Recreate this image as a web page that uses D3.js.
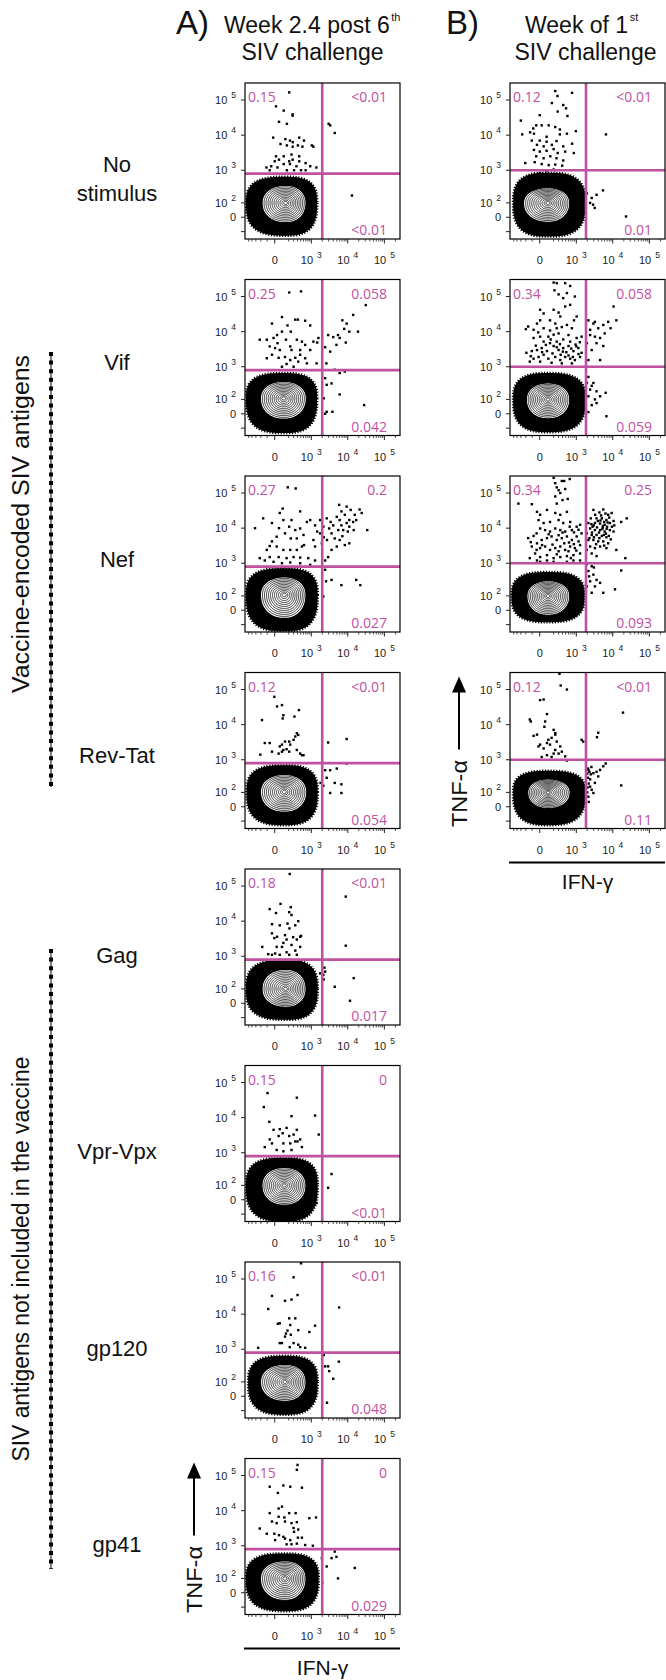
<!DOCTYPE html>
<html>
<head>
<script src="https://d3js.org/d3.v7.min.js"></script>
<style>
  body { margin: 0; padding: 0; background: #fff; }
  svg text { font-family: 'Liberation Sans', Arial, sans-serif; fill: #111; }
  .pct { font-family: 'Open Sans', sans-serif; font-size: 14px; }
  .tick { font-size: 11px; fill: #222; }
</style>
</head>
<body>
<div id="fig"></div>
<script>

// row labels and quadrant frequencies (%)
var rowLabels = [["No", "stimulus"], ["Vif"], ["Nef"], ["Rev-Tat"], ["Gag"], ["Vpr-Vpx"], ["gp120"], ["gp41"]];
var pctA = [["0.15", "<0.01", "<0.01"], ["0.25", "0.058", "0.042"], ["0.27", "0.2", "0.027"], ["0.12", "<0.01", "0.054"],
            ["0.18", "<0.01", "0.017"], ["0.15", "0", "<0.01"], ["0.16", "<0.01", "0.048"], ["0.15", "0", "0.029"]];
var pctB = [["0.12", "<0.01", "0.01"], ["0.34", "0.058", "0.059"], ["0.34", "0.25", "0.093"], ["0.12", "<0.01", "0.11"]];

// gates [IFN-g, TNF-a]
var gateA = [2000, 800];
var gateB = [1850, 1000];

// main population: outer dense region, contoured core, core centre  [xLo, xHi, yLo, yHi]
var haloA = [[-600, 1450, -140, 650], [-600, 1450, -150, 660], [-600, 1500, -170, 720], [-580, 1500, -140, 700],
             [-600, 1500, -120, 790], [-600, 1500, -180, 720], [-520, 1500, -140, 650], [-600, 1600, -140, 600]];
var innerA = [[-200, 760, -40, 390], [-230, 780, -40, 400], [-230, 760, -60, 430], [-230, 800, -40, 400],
              [-200, 760, -30, 450], [-200, 760, -40, 400], [-230, 760, -37, 390], [-230, 760, -55, 390]];
var centerA = [[150, 100], [120, 110], [130, 110], [130, 105], [150, 100], [130, 100], [140, 100], [140, 100]];
var haloB = [[-520, 1800, -150, 850], [-520, 1800, -140, 660], [-580, 1700, -80, 560], [-520, 1800, -140, 480]];
var innerB = [[-270, 700, -37, 330], [-210, 700, -37, 360], [-200, 700, -37, 330], [-185, 720, -15, 290]];
var centerB = [[110, 100], [110, 100], [110, 100], [110, 100]];
var ringLevels = [0.95, 0.87, 0.79, 0.71, 0.63, 0.55, 0.47, 0.39, 0.31, 0.23, 0.15, 0.08];

// outlier events [IFN-g, TNF-a]
var dotsA1 = [[210,165e3],[16,66e3],[120,50e3],[280,39e3],[280,36e3],[55,24e3],[170,21e3],[-20,8500],[145,7700],[225,7000],[280,6300],[450,8500],[620,7000],[1030,5100],[1140,4700],[75,5600],[170,5100],[280,4700],[410,5100],[560,4700],[0,1800],[55,2000],[120,2500],[210,1800],[280,2000],[450,1800],[690,1600],[930,1300],[1380,1200],[-45,1300],[-110,1200],[35,1200],[120,1500],[225,1500],[370,1300],[510,1000],[690,1000],[170,1000],[310,1000],[-65,1000],[16,2500],[255,2800],[450,2500],[3000,21e3],[3300,19e3],[4400,11500],[13000,180]];
var dotsA2 = [[210,130e3],[510,140e3],[-35,17e3],[95,26e3],[180,15e3],[340,22e3],[410,22e3],[670,20500],[930,15e3],[240,10e3],[95,10e3],[30,8000],[-105,5900],[-220,5900],[-15,6600],[155,5900],[380,5900],[540,5200],[670,4200],[1140,5200],[1570,6600],[1450,4900],[2400,3600],[2900,8000],[4000,7000],[5400,8000],[7100,21e3],[9300,17e3],[14e3,30e3],[31e3,57e3],[19e3,10e3],[11e3,10e3],[8000,12e3],[6000,6600],[4900,4200],[8800,4900],[3300,2700],[2600,1250],[4400,820],[6000,660],[8300,730],[-105,1750],[-35,2200],[50,1800],[140,1900],[230,1550],[340,1800],[480,2200],[670,1750],[930,3000],[65,3000],[-65,3800],[5,3400],[165,1200],[420,1400],[750,1250],[300,1000],[95,1000],[1400,1250],[480,3000],[255,3000],[230,3800],[35,4700],[2400,470],[2650,300],[3600,330],[2200,110],[2650,12],[3800,12],[2400,0],[6000,150],[28e3,55]];
var dotsA3 = [[185,145e3],[350,135e3],[-160,19e3],[-320,10e3],[-35,14e3],[65,27e3],[105,36e3],[115,17e3],[210,11e3],[140,7100],[240,5100],[340,8800],[480,30e3],[380,5100],[600,6400],[750,15e3],[930,17e3],[1270,12e3],[1450,8000],[1140,4600],[1270,3000],[540,3000],[380,2400],[230,2400],[115,2400],[25,3000],[-35,4200],[-105,2400],[-65,1500],[50,1500],[165,1400],[300,1500],[480,1450],[-220,1400],[-135,1200],[820,1400],[-15,1100],[95,1000],[230,1050],[480,1000],[930,900],[1270,1200],[25,5700],[-65,3100],[255,17e3],[480,9800],[620,3300],[55,10e3],[1750,17e3],[2150,11e3],[2650,19e3],[3400,15e3],[4000,12e3],[5000,21e3],[6000,17e3],[6700,30e3],[8300,24e3],[9300,14e3],[11e3,11e3],[12e3,33e3],[15500,24e3],[17e3,17e3],[21e3,34e3],[24e3,27e3],[34e3,8800],[10e3,8000],[7500,8800],[5500,8800],[3600,7100],[4400,5100],[6000,4600],[5000,3000],[3600,2400],[2900,1500],[2400,1200],[1950,3700],[1750,7100],[2700,4600],[5800,46e3],[9300,41e3],[14e3,15e3],[6700,12e3],[3100,9800],[2200,5500],[11e3,3700],[8300,3300],[7100,5900],[11e3,17e3],[14500,8800],[2400,650],[2550,300],[2150,95],[3600,330],[6700,230],[17e3,330],[22e3,230]];
var dotsA4 = [[-5,62e3],[30,33e3],[95,36e3],[-180,13500],[115,18500],[105,15e3],[440,26e3],[320,17e3],[380,5700],[420,5100],[340,4600],[300,3700],[210,3300],[140,3300],[230,2700],[95,2700],[65,2400],[165,2000],[380,1900],[480,1500],[540,1350],[600,1350],[115,1900],[-135,3000],[-65,3000],[-210,1400],[95,1700],[210,1700],[50,1500],[-35,1700],[2900,3100],[9300,3900],[9300,780],[2400,500],[3300,500],[5000,560],[2650,300],[4400,210],[6700,190],[3300,95],[6700,95],[2150,170],[1800,210]];
var dotsA5 = [[220,220e3],[75,31e3],[-65,22e3],[240,25e3],[16,17e3],[210,18e3],[-35,8200],[65,7600],[180,8500],[255,15e3],[215,6200],[140,4000],[340,7600],[420,10e3],[480,3600],[290,3500],[30,3600],[-35,4500],[-5,3300],[165,3000],[380,3000],[510,3800],[115,2400],[255,2100],[95,1850],[25,1850],[-175,1850],[-85,1150],[5,1200],[165,1300],[340,1450],[480,1850],[210,1100],[65,1100],[-35,1100],[380,1100],[8800,50e3],[8800,2000],[2300,470],[2400,360],[2150,290],[1750,320],[4400,120],[14500,230],[11500,15],[2200,210]];
var dotsA6 = [[-95,50e3],[-150,20e3],[380,37e3],[255,11e3],[1270,11500],[-70,7600],[-15,4500],[65,4700],[105,3600],[50,3000],[165,5100],[210,3000],[300,3300],[380,4500],[400,2100],[340,2100],[-65,2400],[-135,1450],[-35,1850],[115,1850],[230,1850],[480,2400],[540,1450],[1600,3300],[25,1200],[115,1100],[255,1200],[3600,240],[2900,80],[1400,-20]];
var dotsA7 = [[510,280e3],[300,112e3],[-35,33e3],[255,26e3],[400,35e3],[140,24e3],[-85,14e3],[210,7600],[340,7600],[40,5300],[65,5500],[230,4900],[180,3400],[155,2800],[240,2600],[140,2300],[420,3500],[1270,4700],[880,3100],[65,1500],[95,1500],[300,1500],[420,1350],[220,1150],[480,1150],[-250,1100],[670,1100],[5800,15500],[2200,680],[2400,320],[2900,320],[3100,230],[5700,440],[4000,130],[2700,-40]];
var dotsA8 = [[400,200e3],[380,145e3],[-65,48e3],[40,32e3],[115,52e3],[230,48e3],[540,45e3],[50,11500],[95,13e3],[-65,8500],[210,8500],[350,8500],[50,6700],[130,6400],[-35,4900],[25,4400],[140,4900],[255,4400],[380,4700],[880,6100],[1350,6400],[-220,3100],[-105,2200],[-5,2200],[55,2000],[115,1800],[300,3200],[420,2900],[140,1600],[230,1450],[310,2500],[410,1700],[540,1700],[5,1450],[165,1100],[255,1100],[380,1150],[670,1050],[1100,1000],[1950,440],[3600,440],[4400,680],[4900,480],[2650,250],[5400,100],[15500,225],[2000,62]];
var dotsB1 = [[230,180e3],[275,130e3],[760,160e3],[170,82e3],[420,72e3],[510,58e3],[280,47e3],[0,37e3],[-300,26e3],[560,35e3],[-45,19e3],[25,19e3],[120,19e3],[230,17e3],[330,14500],[-85,15500],[-130,12e3],[-270,10500],[-75,11e3],[90,9000],[330,10500],[540,11e3],[970,13e3],[6500,10500],[-105,7000],[0,7000],[90,6500],[255,6800],[-35,5300],[50,4800],[170,5300],[420,4800],[760,5700],[-75,3800],[0,3400],[90,3600],[200,4000],[280,3100],[480,3400],[850,3100],[-45,2500],[50,2200],[145,2500],[255,2200],[420,1900],[-210,1600],[-65,1700],[25,1500],[120,1400],[230,1450],[390,1350],[200,1050],[90,950],[0,820],[1950,210],[2650,150],[3600,190],[5400,260],[2400,100],[3200,60],[2900,85],[23e3,5]];
var dotsB2 = [[200,250e3],[260,240e3],[480,240e3],[670,200e3],[215,150e3],[300,115e3],[540,125e3],[910,100e3],[420,90e3],[670,58e3],[5,42e3],[50,33e3],[200,42e3],[300,35e3],[340,27e3],[480,52e3],[140,21e3],[230,17e3],[5,21e3],[-35,17e3],[-160,14e3],[-200,11800],[-80,11300],[50,12500],[140,10800],[260,12500],[380,13500],[540,15500],[750,12500],[860,21e3],[1020,27e3],[600,8000],[300,8900],[115,7200],[5,7200],[-80,6600],[50,5200],[140,4700],[260,5200],[420,6000],[670,5200],[1020,6600],[1400,7200],[-190,2500],[-105,2800],[-35,3000],[25,3400],[95,2800],[200,3900],[300,3000],[420,3400],[600,3900],[830,2800],[1140,3400],[1400,2500],[-80,1700],[-15,1900],[50,2200],[115,1700],[230,1900],[340,1550],[480,1900],[670,1700],[910,1550],[1270,1900],[-135,1400],[5,1400],[165,1300],[380,1250],[750,1250],[-50,4000],[80,4200],[180,2400],[350,2200],[520,2600],[720,3300],[950,4300],[1150,2300],[-120,2000],[30,2600],[260,3600],[410,2700],[600,2100],[800,1900],[1000,3800],[1250,5000],[150,6000],[330,4400],[-20,9500],[200,8200],[2150,21e3],[2950,17e3],[4000,12500],[5500,15500],[7500,19e3],[10500,52e3],[12500,21e3],[8700,12500],[6000,8900],[4500,6600],[3250,7200],[2400,8000],[3600,4700],[5500,3900],[2650,3000],[2150,1550],[4500,1550],[3250,19e3],[1950,4700],[2400,11300],[2150,510],[2950,340],[2400,215],[3600,190],[2150,130],[3250,100],[4500,130],[2650,55],[3600,70],[6700,-15],[2150,10],[1950,340],[2650,280],[6400,170]];
var dotsB3 = [[200,270e3],[230,190e3],[260,145e3],[380,220e3],[450,220e3],[650,250e3],[300,120e3],[480,130e3],[340,100e3],[230,80e3],[570,68e3],[400,63e3],[-360,50e3],[260,50e3],[-105,48e3],[-35,29e3],[5,24e3],[95,33e3],[230,27e3],[340,24e3],[540,29e3],[-15,17e3],[50,14e3],[140,15e3],[300,17e3],[420,14e3],[670,15e3],[-160,5200],[-40,7100],[5,9800],[70,8800],[140,8000],[230,9800],[340,8800],[480,8000],[750,8800],[1020,11e3],[1270,12500],[-105,3000],[-35,3700],[25,4600],[95,5200],[165,5800],[260,4600],[380,5200],[540,5800],[750,4600],[1020,5800],[1400,7100],[-40,2400],[5,2700],[70,3000],[140,2400],[230,2700],[340,3000],[480,2400],[670,3000],[910,2700],[1270,3300],[5,1500],[95,1700],[200,1400],[340,1500],[540,1600],[830,1700],[1270,1900],[-135,1400],[300,2200],[600,2200],[95,1200],[-35,1200],[200,1100],[5,1100],[540,1100],[830,1200],[1270,1200],[-80,6000],[120,6700],[300,6300],[450,3700],[620,3900],[850,3500],[1150,4200],[180,3400],[-120,4000],[30,3300],[400,7500],[650,11e3],[860,7600],[1150,9000],[-60,1900],[260,1800],[700,1400],[1000,2300],[2950,33e3],[4300,28e3],[5500,34e3],[7500,24e3],[9300,27e3],[2500,19e3],[3600,19e3],[5000,19e3],[6700,17e3],[3250,14e3],[4500,13500],[6000,12500],[8300,14e3],[2400,9800],[3250,8800],[4500,8800],[6000,8000],[8300,8800],[2650,6400],[3600,6400],[5000,6000],[6700,5500],[2150,4600],[2950,4600],[4000,4200],[5500,4200],[7500,3700],[2400,3000],[3250,2700],[4500,3000],[6700,2700],[17e3,15e3],[24e3,19e3],[10500,8000],[12500,2400],[2150,14e3],[2800,11e3],[3700,10500],[5300,10500],[3050,5500],[4300,5200],[5700,6400],[1950,7100],[1950,2400],[2650,1900],[3600,1600],[3900,16e3],[5800,15e3],[7000,11e3],[8000,20e3],[4200,7500],[5200,9500],[6500,7000],[3000,12e3],[2700,7500],[7800,6000],[9500,11e3],[10500,16e3],[4800,23e3],[6300,26e3],[3500,3500],[5800,3200],[2300,5200],[8800,4800],[11e3,12e3],[3300,24e3],[4600,16500],[5400,11500],[6800,9600],[2600,13e3],[7200,14500],[1950,950],[2650,820],[2150,600],[2950,470],[3600,330],[2400,300],[1950,210],[3250,210],[4500,270],[5500,130],[2650,130],[11500,170],[17e3,620],[22e3,1400],[2250,420],[3050,760]];
var dotsB4 = [[320,280e3],[350,130e3],[540,100e3],[5,50e3],[50,52e3],[95,20e3],[-135,14e3],[-120,12300],[-35,5200],[-80,4800],[70,12300],[60,8700],[200,7100],[230,5700],[165,4200],[115,3700],[95,3000],[5,2700],[50,2100],[140,2700],[230,5200],[260,3300],[340,2400],[-15,2400],[230,1900],[200,1500],[165,1200],[300,1500],[380,1700],[480,1250],[540,950],[1400,3700],[1550,3300],[4000,5900],[3700,4400],[19e3,22e3],[25,1200],[95,1350],[2150,510],[2950,410],[3600,450],[4500,510],[5500,650],[6400,780],[2400,270],[3250,210],[2650,125],[2150,65],[17e3,175],[2950,95],[4000,330],[2000,400],[2100,300],[2200,200],[2050,150],[2300,450],[2500,380],[2000,100],[2200,30],[2400,160],[2100,560],[2600,620]];

// axis ticks
var xTickVals = [0, 1e3, 1e4, 1e5];
var xTickExp = ["", "3", "4", "5"];
var yTickVals = [0, 1e2, 1e3, 1e4, 1e5];
var yTickExp = ["", "2", "3", "4", "5"];
var minorMult = [2, 3, 4, 5, 6, 7, 8, 9];
var minorDecades = [1e2, 1e3, 1e4];
var xNegMinor = [-500, -400, -300, -200, -100];

// layout
var W = 666, H = 1680;
var boxW = 155, boxH = 156;
var colX = [245, 510];
var rowTop0 = 83, rowStep = 196.5;
var xDomain = [-640, 267000], yDomain = [-180, 305000];
var xCof = 202, yCof = 92;
var magenta = "#c0519f";

var svg = d3.select("#fig").append("svg").attr("width", W).attr("height", H);
svg.append("rect").attr("width", W).attr("height", H).attr("fill", "#fff");

// arcsinh display transform, as used by cytometry software
function arcsinhScale(domain, range, cof) {
    var lin = d3.scaleLinear()
        .domain(domain.map(function(d){ return Math.asinh(d / cof); }))
        .range(range);
    return function(v){ return lin(Math.asinh(v / cof)); };
}

// rounded contour around c, extents in px [left, right, top, bottom]
function blobPath(ext, c, s, n) {
    var pts = [];
    for (var k = 0; k < 180; k++) {
        var t = k / 180 * 2 * Math.PI, ct = Math.cos(t), st = Math.sin(t);
        var rx = ct < 0 ? c[0] - ext[0] : ext[1] - c[0];
        var ry = st < 0 ? c[1] - ext[2] : ext[3] - c[1];
        pts.push([c[0] + s * rx * Math.sign(ct) * Math.pow(Math.abs(ct), 2 / n),
                  c[1] + s * ry * Math.sign(st) * Math.pow(Math.abs(st), 2 / n)]);
    }
    return d3.line().curve(d3.curveLinearClosed)(pts);
}

function drawPanel(p, idx) {
    var x0 = colX[p.col], y0 = rowTop0 + rowStep * p.row;
    var x = arcsinhScale(xDomain, [x0, x0 + boxW], xCof);
    var y = arcsinhScale(yDomain, [y0 + boxH, y0], yCof);
    var g = svg.append("g");

    var clipId = "clip" + idx;
    g.append("clipPath").attr("id", clipId).append("rect")
        .attr("x", x0).attr("y", y0).attr("width", boxW).attr("height", boxH);
    var plot = g.append("g").attr("clip-path", "url(#" + clipId + ")");

    var c = [x(p.center[0]), y(p.center[1])];
    var haloPx = [x(p.halo[0]), x(p.halo[1]), y(p.halo[3]), y(p.halo[2])];
    var innerPx = [x(p.inner[0]), x(p.inner[1]), y(p.inner[3]), y(p.inner[2])];

    plot.append("path").attr("d", blobPath(haloPx, c, 1, 2.8))
        .attr("fill", "#000").attr("stroke", "#000")
        .attr("stroke-width", 2.6).attr("stroke-dasharray", "1.2 1.6");

    ringLevels.forEach(function(s, k){
        plot.append("path").attr("d", blobPath(innerPx, c, s, 2.15))
            .attr("fill", k === 0 ? "#fff" : "none")
            .attr("stroke", "#000").attr("stroke-width", k === 0 ? 1.1 : 0.8);
    });

    plot.selectAll(".dot").data(p.dots).enter().append("rect")
        .attr("x", function(d){ return x(d[0]) - 1.2; })
        .attr("y", function(d){ return y(d[1]) - 1.2; })
        .attr("width", 2.4).attr("height", 2.4)
        .attr("fill", "#000");

    // quadrant gates
    plot.append("line")
        .attr("x1", x(p.gate[0])).attr("x2", x(p.gate[0]))
        .attr("y1", y0).attr("y2", y0 + boxH)
        .attr("stroke", magenta).attr("stroke-width", 2.6);
    plot.append("line")
        .attr("x1", x0).attr("x2", x0 + boxW)
        .attr("y1", y(p.gate[1])).attr("y2", y(p.gate[1]))
        .attr("stroke", magenta).attr("stroke-width", 2.6);

    g.append("rect").attr("x", x0).attr("y", y0).attr("width", boxW).attr("height", boxH)
        .attr("fill", "none").attr("stroke", "#000").attr("stroke-width", 1.2);

    g.append("text").attr("class", "pct").attr("x", x0 + 3).attr("y", y0 + 19)
        .style("fill", magenta).text(p.pct[0]);
    g.append("text").attr("class", "pct").attr("x", x0 + boxW - 13).attr("y", y0 + 19)
        .attr("text-anchor", "end").style("fill", magenta).text(p.pct[1]);
    g.append("text").attr("class", "pct").attr("x", x0 + boxW - 13).attr("y", y0 + boxH - 4)
        .attr("text-anchor", "end").style("fill", magenta).text(p.pct[2]);

    // bottom axis
    var xMinor = xNegMinor.slice();
    minorDecades.forEach(function(dec){
        minorMult.forEach(function(m){ xMinor.push(m * dec); });
    });
    xMinor.push(2e5);
    xMinor.forEach(function(v){
        g.append("line").attr("x1", x(v)).attr("x2", x(v))
            .attr("y1", y0 + boxH).attr("y2", y0 + boxH + 2.5)
            .attr("stroke", "#222").attr("stroke-width", 0.8);
    });
    xTickVals.forEach(function(v, i){
        g.append("line").attr("x1", x(v)).attr("x2", x(v))
            .attr("y1", y0 + boxH).attr("y2", y0 + boxH + 4.5)
            .attr("stroke", "#222").attr("stroke-width", 1);
        var t = g.append("text").attr("class", "tick").attr("text-anchor", "middle")
            .attr("x", x(v)).attr("y", y0 + boxH + 25);
        if (xTickExp[i] === "") { t.text("0"); }
        else {
            t.append("tspan").text("10");
            t.append("tspan").attr("dx", 4).attr("dy", -6).style("font-size", "8.5px").text(xTickExp[i]);
        }
    });

    // left axis
    yTickVals.concat([-100]).forEach(function(v){
        g.append("line").attr("x1", x0 - 4).attr("x2", x0)
            .attr("y1", y(v)).attr("y2", y(v))
            .attr("stroke", "#222").attr("stroke-width", 1);
    });
    yTickVals.forEach(function(v, i){
        var t = g.append("text").attr("class", "tick").attr("text-anchor", "end")
            .attr("x", x0 - 9).attr("y", y(v) + 4);
        if (yTickExp[i] === "") { t.text("0"); }
        else {
            t.append("tspan").text("10");
            t.append("tspan").attr("dx", 4).attr("dy", -6).style("font-size", "8.5px").text(yTickExp[i]);
        }
    });
}

var dotsA = [dotsA1, dotsA2, dotsA3, dotsA4, dotsA5, dotsA6, dotsA7, dotsA8];
var dotsB = [dotsB1, dotsB2, dotsB3, dotsB4];
var panels = [];
dotsA.forEach(function(d, i){
    panels.push({col: 0, row: i, dots: d, pct: pctA[i], halo: haloA[i], inner: innerA[i], center: centerA[i], gate: gateA});
});
dotsB.forEach(function(d, i){
    panels.push({col: 1, row: i, dots: d, pct: pctB[i], halo: haloB[i], inner: innerB[i], center: centerB[i], gate: gateB});
});
panels.forEach(drawPanel);

// column headings, with superscript ordinal placed after the measured line
function heading(txt, sup, x, y, anchor) {
    var t = svg.append("text").attr("x", x).attr("y", y).style("font-size", "23px")
        .attr("text-anchor", anchor || "start").text(txt);
    if (sup) {
        var w = t.node().getComputedTextLength();
        svg.append("text").attr("x", x + w + 1.5).attr("y", y - 12)
            .style("font-size", "11px").text(sup);
    }
}
svg.append("text").attr("x", 176).attr("y", 34).style("font-size", "33px").text("A)");
heading("Week 2.4 post 6", "th", 224, 33);
heading("SIV challenge", null, 312.5, 60, "middle");
svg.append("text").attr("x", 446).attr("y", 34).style("font-size", "33px").text("B)");
heading("Week of 1", "st", 525, 33);
heading("SIV challenge", null, 585.5, 60, "middle");

// row labels
var labelDy = [3, 5, 5, 5, 8, 8, 8, 8];
rowLabels.forEach(function(lines, i){
    var cy = rowTop0 + rowStep * i + boxH / 2 + labelDy[i];
    lines.forEach(function(line, j){
        svg.append("text").attr("x", 117).attr("y", cy + j * 29)
            .attr("text-anchor", "middle").attr("dominant-baseline", "central")
            .style("font-size", "22px").text(line);
    });
});

// antigen groups
function groupLabel(txt, cy, len, y1, y2) {
    svg.append("text").attr("transform", "translate(29," + cy + ") rotate(-90)")
        .attr("text-anchor", "middle").style("font-size", "23px")
        .attr("textLength", len).attr("lengthAdjust", "spacingAndGlyphs").text(txt);
    svg.append("line").attr("x1", 51).attr("x2", 51).attr("y1", y1).attr("y2", y2)
        .attr("stroke", "#000").attr("stroke-width", 1);
    svg.append("line").attr("x1", 51).attr("x2", 51).attr("y1", y1).attr("y2", y2)
        .attr("stroke", "#000").attr("stroke-width", 4).attr("stroke-dasharray", "4 4.6");
}
groupLabel("Vaccine-encoded SIV antigens", 524, 338, 352, 787);
groupLabel("SIV antigens not included in the vaccine", 1259, 405, 949, 1569);

// axis titles on the last panel of each column
function axisTitles(col, row) {
    var x0 = colX[col], y0 = rowTop0 + rowStep * row;
    var ax = x0 - 51;
    svg.append("line").attr("x1", ax).attr("x2", ax).attr("y1", y0 + 77).attr("y2", y0 + 16)
        .attr("stroke", "#000").attr("stroke-width", 2);
    svg.append("path")
        .attr("d", "M" + ax + "," + (y0 + 4) + "L" + (ax - 7) + "," + (y0 + 20) + "L" + (ax + 7) + "," + (y0 + 20) + "Z")
        .attr("fill", "#000");
    svg.append("text").attr("transform", "translate(" + (ax + 8) + "," + (y0 + 121) + ") rotate(-90)")
        .attr("text-anchor", "middle").style("font-size", "22px")
        .attr("textLength", 67).attr("lengthAdjust", "spacingAndGlyphs").text("TNF-α");
    svg.append("line").attr("x1", x0 - 1).attr("x2", x0 + boxW).attr("y1", y0 + boxH + 34).attr("y2", y0 + boxH + 34)
        .attr("stroke", "#000").attr("stroke-width", 2);
    svg.append("text").attr("x", x0 + boxW / 2).attr("y", y0 + boxH + 60)
        .attr("text-anchor", "middle").style("font-size", "21px").text("IFN-γ");
}
axisTitles(0, 7);
axisTitles(1, 3);

</script>
</body>
</html>
